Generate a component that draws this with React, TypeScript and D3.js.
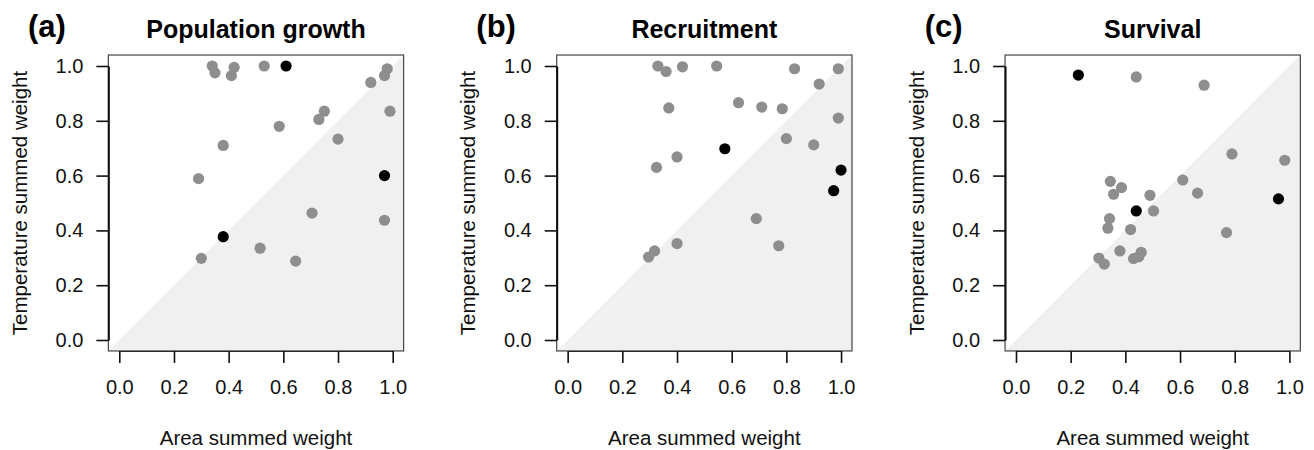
import React, { useEffect, useRef } from 'react';
import * as d3 from 'd3';

// Panel titles and letters
const panelTitles = ['Population growth', 'Recruitment', 'Survival'];
const panelLetters = ['(a)', '(b)', '(c)'];
const tickValues = [0, 0.2, 0.4, 0.6, 0.8, 1.0];

// (a) Population growth
const popGrayArea = [0.34, 0.35, 0.42, 0.41, 0.53, 0.98, 0.97, 0.92, 0.75, 0.73, 0.99, 0.585, 0.8, 0.38, 0.29, 0.705, 0.97, 0.515, 0.645, 0.3];
const popGrayTemp = [1.0, 0.975, 0.995, 0.965, 1.0, 0.99, 0.965, 0.94, 0.835, 0.805, 0.835, 0.78, 0.733, 0.71, 0.589, 0.463, 0.437, 0.335, 0.288, 0.298];
const popBlackArea = [0.61, 0.97, 0.38];
const popBlackTemp = [1.0, 0.6, 0.377];

// (b) Recruitment
const recGrayArea = [0.33, 0.36, 0.42, 0.545, 0.83, 0.99, 0.92, 0.625, 0.71, 0.785, 0.37, 0.99, 0.8, 0.9, 0.4, 0.325, 0.69, 0.4, 0.772, 0.318, 0.296];
const recGrayTemp = [1.0, 0.98, 0.997, 1.0, 0.99, 0.99, 0.934, 0.866, 0.85, 0.844, 0.847, 0.81, 0.735, 0.712, 0.668, 0.63, 0.443, 0.352, 0.344, 0.325, 0.303];
const recBlackArea = [0.575, 1.0, 0.973];
const recBlackTemp = [0.698, 0.62, 0.545];

// (c) Survival
const survGrayArea = [0.44, 0.688, 0.79, 0.983, 0.61, 0.345, 0.386, 0.357, 0.49, 0.664, 0.503, 0.342, 0.336, 0.419, 0.77, 0.38, 0.458, 0.449, 0.43, 0.303, 0.323];
const survGrayTemp = [0.96, 0.93, 0.679, 0.656, 0.584, 0.579, 0.556, 0.532, 0.528, 0.536, 0.471, 0.443, 0.408, 0.403, 0.392, 0.325, 0.32, 0.304, 0.297, 0.299, 0.277];
const survBlackArea = [0.228, 0.96, 0.44];
const survBlackTemp = [0.967, 0.515, 0.471];

const FONT = "'Liberation Sans', Arial, Helvetica, sans-serif";

export default function App() {
  const svgRef = useRef<SVGSVGElement | null>(null);

  useEffect(() => {
    if (!svgRef.current) return;
    const svg = d3.select(svgRef.current);
    svg.selectAll('*').remove();

    const panels = [
      { gx: popGrayArea, gy: popGrayTemp, bx: popBlackArea, by: popBlackTemp },
      { gx: recGrayArea, gy: recGrayTemp, bx: recBlackArea, by: recBlackTemp },
      { gx: survGrayArea, gy: survGrayTemp, bx: survBlackArea, by: survBlackTemp },
    ];

    const panelStep = 448.35;

    panels.forEach((p, i) => {
      const off = i * panelStep;
      const x = d3.scaleLinear().domain([0, 1]).range([119.3 + off, 392.7 + off]);
      const y = d3.scaleLinear().domain([0, 1]).range([340, 66]);
      const g = svg.append('g');

      const lo = -0.04, hi = 1.04;

      // shaded region below the 1:1 line
      const tri: [number, number][] = [[lo, lo], [hi, lo], [hi, hi]];
      g.append('path')
        .attr('d', d3.line<[number, number]>().x(d => x(d[0])).y(d => y(d[1]))(tri) + 'Z')
        .attr('fill', '#f0f0f0');

      // plot box
      g.append('rect')
        .attr('x', x(lo))
        .attr('y', y(hi))
        .attr('width', x(hi) - x(lo))
        .attr('height', y(lo) - y(hi))
        .attr('fill', 'none')
        .attr('stroke', '#444')
        .attr('stroke-width', 1.2);

      // points: gray first, black on top
      g.selectAll('.gray-pt')
        .data(p.gx.map((v, k) => [v, p.gy[k]]))
        .enter()
        .append('circle')
        .attr('cx', d => x(d[0]))
        .attr('cy', d => y(d[1]))
        .attr('r', 5.6)
        .attr('fill', '#8e8e8e');

      g.selectAll('.black-pt')
        .data(p.bx.map((v, k) => [v, p.by[k]]))
        .enter()
        .append('circle')
        .attr('cx', d => x(d[0]))
        .attr('cy', d => y(d[1]))
        .attr('r', 5.6)
        .attr('fill', '#000');

      // x axis
      const xa = g.append('g')
        .attr('transform', `translate(0,${y(lo)})`)
        .call(d3.axisBottom(x).tickValues(tickValues).tickSize(12).tickSizeOuter(0).tickPadding(17).tickFormat(d3.format('.1f')));
      xa.select('.domain').attr('stroke', '#222').attr('stroke-width', 1);
      xa.selectAll('.tick line').attr('stroke', '#111').attr('stroke-width', 1.6);
      xa.selectAll('.tick text')
        .attr('font-family', FONT)
        .attr('font-size', 20)
        .attr('fill', '#111');

      // y axis
      const ya = g.append('g')
        .attr('transform', `translate(${x(lo)},0)`)
        .call(d3.axisLeft(y).tickValues(tickValues).tickSize(12).tickSizeOuter(0).tickPadding(13).tickFormat(d3.format('.1f')));
      ya.select('.domain').attr('stroke', '#111').attr('stroke-width', 2);
      ya.selectAll('.tick line').attr('stroke', '#111').attr('stroke-width', 1.6);
      ya.selectAll('.tick text')
        .attr('font-family', FONT)
        .attr('font-size', 20)
        .attr('fill', '#111');

      // titles
      g.append('text')
        .attr('x', (x(0) + x(1)) / 2)
        .attr('y', 38)
        .attr('text-anchor', 'middle')
        .attr('font-family', FONT)
        .attr('font-weight', 'bold')
        .attr('font-size', 25)
        .attr('fill', '#000')
        .text(panelTitles[i]);

      g.append('text')
        .attr('x', 28 + off)
        .attr('y', 37)
        .attr('font-family', FONT)
        .attr('font-weight', 'bold')
        .attr('font-size', 31)
        .attr('fill', '#000')
        .text(panelLetters[i]);

      // axis labels
      g.append('text')
        .attr('x', (x(0) + x(1)) / 2)
        .attr('y', 445)
        .attr('text-anchor', 'middle')
        .attr('font-family', FONT)
        .attr('font-size', 20.5)
        .attr('fill', '#111')
        .text('Area summed weight');

      g.append('text')
        .attr('transform', `translate(${27 + off},${(y(0) + y(1)) / 2}) rotate(-90)`)
        .attr('text-anchor', 'middle')
        .attr('font-family', FONT)
        .attr('font-size', 20.5)
        .attr('fill', '#111')
        .text('Temperature summed weight');
    });
  }, []);

  return (
    <div style={{ position: 'absolute', left: 0, top: 0, width: 1314, height: 450, background: '#fff' }}>
      <svg ref={svgRef} width={1314} height={450} style={{ display: 'block' }} />
    </div>
  );
}
